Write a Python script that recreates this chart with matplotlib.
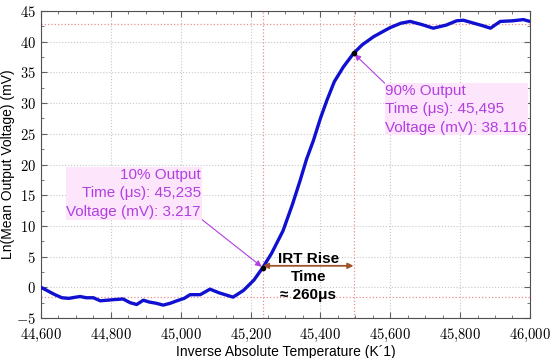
import matplotlib
matplotlib.use("Agg")
import matplotlib.pyplot as plt
from matplotlib.ticker import MultipleLocator, FuncFormatter

plt.rcParams['font.family'] = ['Liberation Sans', 'DejaVu Sans']
plt.rcParams['mathtext.fontset'] = 'cm'

# Messkurve
temp = [44600, 44620, 44640, 44660, 44680, 44700, 44712, 44730, 44750, 44770,
        44790, 44810, 44835, 44855, 44874, 44893, 44910, 44930, 44950, 44970,
        44989, 45010, 45027, 45056, 45084, 45110, 45150, 45180, 45210, 45235,
        45260, 45293, 45320, 45342, 45360, 45380, 45400, 45419, 45440, 45466,
        45495, 45520, 45552, 45571, 45600, 45630, 45657, 45690, 45723, 45760,
        45790, 45809, 45840, 45865, 45887, 45915, 45950, 45981, 46000]
volt = [0.0, -0.6, -1.2, -1.7, -1.8, -1.6, -1.5, -1.7, -1.7, -2.2,
        -2.1, -2.0, -1.9, -2.5, -2.8, -2.1, -2.4, -2.6, -2.9, -2.6,
        -2.2, -1.8, -1.2, -1.2, -0.3, -0.9, -1.6, -0.5, 1.2, 3.2,
        5.5, 9.2, 13.5, 17.4, 20.8, 23.9, 27.5, 30.5, 33.5, 35.9,
        38.1, 39.5, 40.8, 41.4, 42.3, 43.0, 43.3, 42.8, 42.2, 42.7,
        43.4, 43.5, 43.0, 42.6, 42.2, 43.3, 43.4, 43.6, 43.3]

t10, v10 = 45235, 3.217
t90, v90 = 45495, 38.116
v_high, v_low = 42.8, -1.6

fig = plt.figure(figsize=(5.5, 3.58), dpi=100)
ax = fig.add_axes([0.0745, 0.1117, 0.889, 0.8576])

ax.grid(True, which='major', color='#c8c8c8', linestyle=':', linewidth=0.8)
for t in (t10, t90):
    ax.axvline(t, color='#e89090', linestyle=':', linewidth=0.9)
for v in (v_high, v_low):
    ax.axhline(v, color='#e89090', linestyle=':', linewidth=0.9)

ax.plot(temp, volt, color='#1010d0', linewidth=2.4, zorder=3)
ax.plot([t10, t90], [v10, v90], 'o', color='black', markersize=3, zorder=4)

purple = '#b23fe0'
pink = dict(facecolor='#fde6fb', edgecolor='none', pad=0.5)
ax.annotate('90% Output\nTime (\u03bcs): 45,495\nVoltage (mV): 38.116',
            xy=(t90, v90), xytext=(45586, 29.0), color=purple, fontsize=11,
            ha='left', va='center', linespacing=1.4, bbox=pink,
            arrowprops=dict(arrowstyle='-|>', color=purple, lw=0.8,
                            shrinkA=0, shrinkB=1, mutation_scale=9,
                            relpos=(0, 1)))
ax.annotate('10% Output\nTime (\u03bcs): 45,235\nVoltage (mV): 3.217',
            xy=(t10, v10), xytext=(45058, 15.3), color=purple, fontsize=11,
            ha='right', va='center', multialignment='right', linespacing=1.4,
            bbox=pink,
            arrowprops=dict(arrowstyle='-|>', color=purple, lw=0.8,
                            shrinkA=0, shrinkB=1, mutation_scale=9,
                            relpos=(1, 0)))

ax.annotate('', xy=(t10, 3.5), xytext=(t90, 3.5),
            arrowprops=dict(arrowstyle='<|-|>', color='#a0522d', lw=1.3,
                            shrinkA=0, shrinkB=0, mutation_scale=8))
ax.text(45365, 1.7, 'IRT Rise\nTime\n\u2248 260\u03bcs', ha='center', va='center',
        fontsize=11, fontweight='bold', linespacing=1.35)

ax.set_xlim(44600, 46000)
ax.set_ylim(-5, 45)
ax.xaxis.set_major_locator(MultipleLocator(200))
ax.xaxis.set_minor_locator(MultipleLocator(50))
ax.yaxis.set_major_locator(MultipleLocator(5))
ax.yaxis.set_minor_locator(MultipleLocator(2.5))
ax.xaxis.set_major_formatter(FuncFormatter(
    lambda v, p: r'$%d{,}%03d$' % (int(v) // 1000, int(v) % 1000)))
ax.yaxis.set_major_formatter(FuncFormatter(lambda v, p: r'$%d$' % v))
ax.tick_params(which='both', direction='in', top=True, right=True,
               labelsize=10.5, color='#606060')
ax.tick_params(which='major', length=4)
ax.tick_params(axis='x', which='major', pad=6)
ax.tick_params(which='minor', length=2)
for s in ax.spines.values():
    s.set_color('#505050')
    s.set_linewidth(0.8)

ax.set_xlabel('Inverse Absolute Temperature (K\u00b41)', fontsize=10, labelpad=1)
ax.set_ylabel('Ln(Mean Output Voltage) (mV)', fontsize=10, labelpad=1)

fig.savefig('out.png', dpi=100)
